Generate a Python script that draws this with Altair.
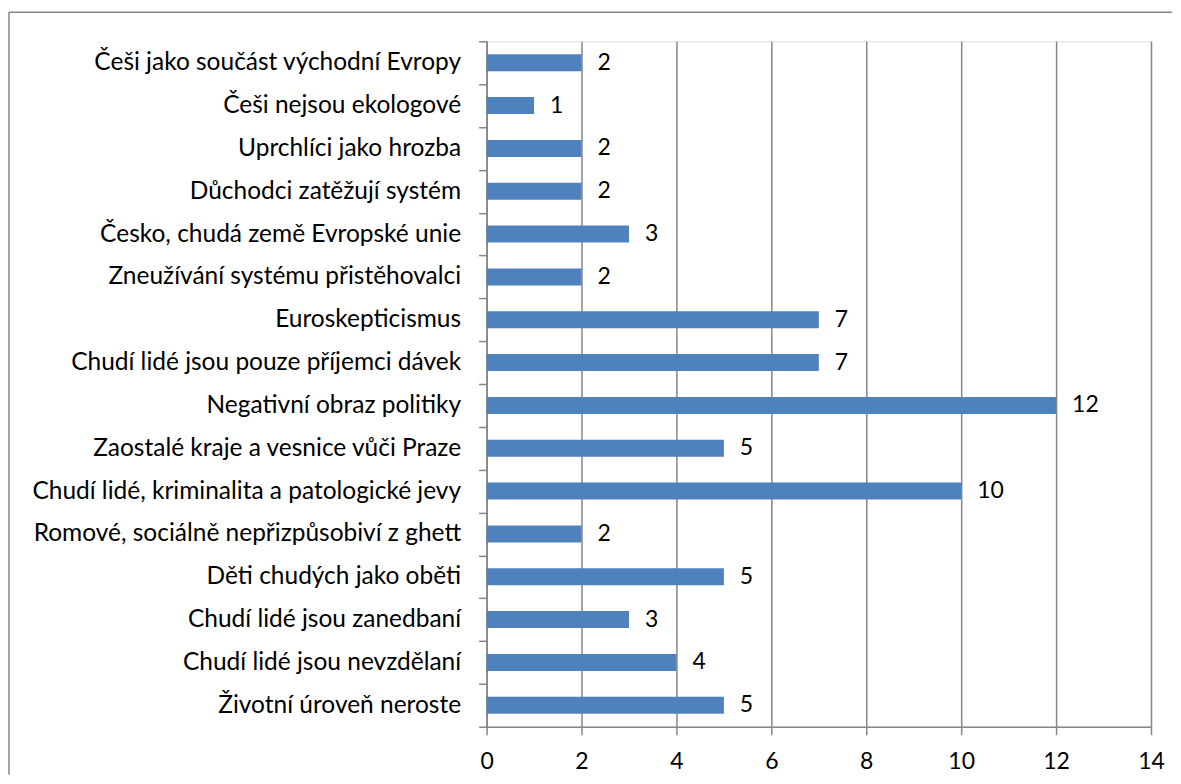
import altair as alt
import pandas as pd

NB = "\u00a0"
categories = [
    "Češi jako součást východní Evropy",
    "Češi nejsou ekologové",
    "Uprchlíci jako hrozba",
    "Důchodci zatěžují systém" + NB,
    "Česko, chudá země Evropské unie" + NB,
    "Zneužívání systému přistěhovalci",
    "Euroskepticismus",
    "Chudí lidé jsou pouze příjemci dávek" + NB,
    "Negativní obraz politiky" + NB,
    "Zaostalé kraje a vesnice vůči Praze",
    "Chudí lidé, kriminalita a patologické jevy",
    "Romové, sociálně nepřizpůsobiví z ghett",
    "Děti chudých jako oběti",
    "Chudí lidé jsou zanedbaní" + NB,
    "Chudí lidé jsou nevzdělaní",
    "Životní úroveň neroste",
]
values = [2, 1, 2, 2, 3, 2, 7, 7, 12, 5, 10, 2, 5, 3, 4, 5]
x_ticks = [0, 2, 4, 6, 8, 10, 12, 14]

df = pd.DataFrame({"kategorie": categories, "pocet": values})

FONT = "Lato"
FS_CAT = 24.5
FS_NUM = 23
GRAY = "#868686"

y_enc = alt.Y(
    "kategorie:N",
    sort=categories,
    scale=alt.Scale(paddingInner=0, paddingOuter=0),
    axis=alt.Axis(
        title=None, labelFont=FONT, labelFontSize=FS_CAT, labelColor="black",
        labelPadding=18, tickSize=8, tickBand="extent", tickColor=GRAY,
        domainColor=GRAY, domainWidth=1.5, tickWidth=1.5, labelLimit=600, grid=False,
    ),
)
x_enc = alt.X(
    "pocet:Q",
    scale=alt.Scale(domain=[0, 14], nice=False),
    axis=alt.Axis(
        values=x_ticks, title=None, labelFont=FONT, labelFontSize=FS_NUM,
        labelColor="black", labelPadding=16, tickSize=8, tickColor=GRAY,
        tickWidth=1.5, domainColor=GRAY, domainWidth=1.5, grid=True,
        gridColor=GRAY, gridWidth=1.5, labelFlush=False,
    ),
)

bars = alt.Chart(df).mark_bar(color="#4F81BD", size=17).encode(x=x_enc, y=y_enc)
labels = alt.Chart(df).mark_text(
    align="left", baseline="middle", dx=16, font=FONT, fontSize=FS_NUM, color="black"
).encode(x=alt.X("pocet:Q"), y=alt.Y("kategorie:N", sort=categories), text="pocet:Q")

frame_data = alt.Data(values=[{}])
frame_top = alt.Chart(frame_data).mark_rule(color=GRAY, strokeWidth=1.5).encode(
    x=alt.value(-478), x2=alt.value(686), y=alt.value(-29)
)
frame_left = alt.Chart(frame_data).mark_rule(color=GRAY, strokeWidth=1.5).encode(
    x=alt.value(-478), y=alt.value(-29), y2=alt.value(734)
)

chart = (
    alt.layer(frame_top, frame_left, bars, labels)
    .properties(width=665, height=686, padding={"left": 0, "top": 3, "right": 0, "bottom": 0})
    .configure_view(stroke=None)
    .configure(background="white")
)

chart.save("out.html", embed_options={"renderer": "svg", "actions": False})
